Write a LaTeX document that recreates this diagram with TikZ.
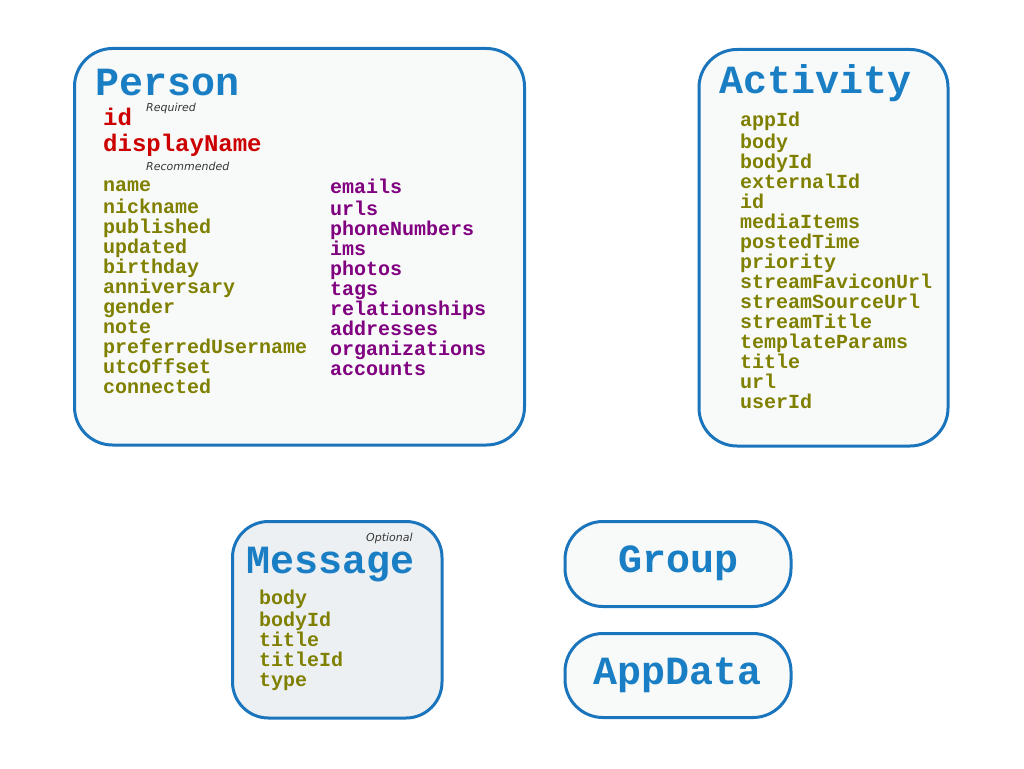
\documentclass[tikz,border=0pt]{standalone}
\usepackage{fontspec}
\setmonofont{Liberation Mono}
\newfontfamily\notefont{DejaVu Sans}
\usepackage{tikz}
\usetikzlibrary{positioning}

\definecolor{boxblue}{RGB}{26,117,188}
\definecolor{titleblue}{RGB}{25,126,196}
\definecolor{boxfill}{RGB}{248,250,250}
\definecolor{msgfill}{RGB}{236,240,243}
\definecolor{reqred}{RGB}{204,0,0}
\definecolor{recolive}{RGB}{128,128,0}
\definecolor{optpurple}{RGB}{128,0,128}
\definecolor{notegray}{RGB}{55,55,55}

\begin{document}
\begin{tikzpicture}[
  x=1pt, y=-1pt,
  entity/.style={draw=boxblue, line width=3pt, rounded corners=38pt, fill=boxfill, inner sep=0pt},
  entityname/.style={font=\fontsize{40}{40}\selectfont\ttfamily\bfseries, text=titleblue, inner sep=0pt},
  fieldlist/.style={font=\fontsize{20}{20}\selectfont\ttfamily\bfseries, align=left, inner sep=0pt, anchor=north west},
  reqlist/.style={font=\fontsize{24}{24}\selectfont\ttfamily\bfseries, align=left, inner sep=0pt, anchor=north west, text=reqred},
  note/.style={font=\fontsize{11}{11}\selectfont\notefont\itshape, text=notegray, inner sep=0pt, anchor=base west}
]
\useasboundingbox (0,0) rectangle (1024,768);

% entity boxes
\node[entity, minimum width=450pt, minimum height=396.5pt] (person) at (299.5,246.75) {};
\node[entity, minimum width=249pt, minimum height=396.5pt] (activity) at (823.5,247.75) {};
\node[entity, fill=msgfill, rounded corners=36pt, minimum width=209.5pt, minimum height=196.5pt] (message) at (337.25,619.75) {};
\node[entity, minimum width=226pt, minimum height=85pt] (group) at (678,564) {};
\node[entity, minimum width=226pt, minimum height=84pt] (appdata) at (678,675.5) {};

% Person
\node[entityname, anchor=base west] (personname) at (95,95) {Person};
\node[note] (required) at (146,111) {Required};
\node[reqlist] (personreq) at (103,108.2) {\strut id\\displayName};
\node[note] (recommended) at (146,170) {Recommended};
\node[fieldlist, text=recolive] (personrec) at (103,177.5) {\strut name\\nickname\\published\\updated\\birthday\\anniversary\\gender\\note\\preferredUsername\\utcOffset\\connected};
\node[fieldlist, text=optpurple] (personopt) at (330,179) {\strut emails\\urls\\phoneNumbers\\ims\\photos\\tags\\relationships\\addresses\\organizations\\accounts};

% Activity
\node[entityname, anchor=base west] (activityname) at (719,93) {Activity};
\node[fieldlist, text=recolive] (activityfields) at (740,112) {\strut appId\\body\\bodyId\\externalId\\id\\mediaItems\\postedTime\\priority\\streamFaviconUrl\\streamSourceUrl\\streamTitle\\templateParams\\title\\url\\userId};

% Message
\node[note] (optional) at (366,541) {Optional};
\node[entityname, anchor=base west, text height=26pt] (messagename) at (246,573) {Message};
\node[fieldlist, text=recolive] (messagefields) at (259,590) {\strut body\\bodyId\\title\\titleId\\type};

% Group and AppData
\node[entityname, anchor=base] (groupname) at (678,572) {Group};
\node[entityname, anchor=base] (appdataname) at (678,684) {AppData};

\end{tikzpicture}
\end{document}
